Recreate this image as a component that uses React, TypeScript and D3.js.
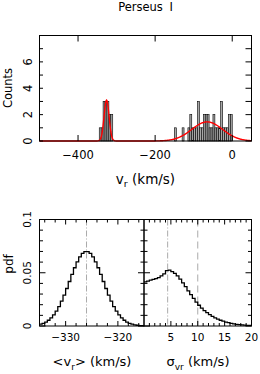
import React from 'react';
import * as d3 from 'd3';

// top panel: radial velocity histogram (counts per 5 km/s bin)
const vrBinWidth = 5;
const vrBinLeft = [
  -345, -340, -335, -330, -325, -320, -315,
  -150, -130, -115, -110, -105, -100, -95, -90, -85, -80, -75, -70, -65,
  -60, -55, -50, -45, -40, -35, -30, -25, -20, -15, -10, -5,
];
const vrCounts = [
  1, 1, 3, 3, 3, 2, 2,
  1, 1, 1, 2, 1, 1, 1, 3, 1, 1, 2, 2, 2,
  1, 1, 2, 1, 1, 1, 3, 1, 1, 1, 2, 2,
];

// fitted gaussian components (amplitude in counts, mean, sigma)
const fitAmp = [3.1, 1.45];
const fitMean = [-326, -65];
const fitSigma = [6.5, 40];

const vrTicks = [-400, -200, 0];
const countTicks = [0, 1, 2, 3, 4, 5, 6, 7];
const countLabels = [0, 2, 4, 6];

// bottom panels: posterior pdfs, 0.5 km/s bins
const meanBinStart = -335;
const meanBinWidth = 0.5;
const meanPdf = [
  0.0017, 0.0025, 0.0037, 0.0054, 0.0076, 0.0104, 0.014, 0.0182, 0.0233, 0.029,
  0.0352, 0.0418, 0.0484, 0.0547, 0.0603, 0.0649, 0.0681, 0.0698, 0.0698, 0.0681,
  0.0649, 0.0603, 0.0547, 0.0484, 0.0418, 0.0352, 0.029, 0.0233, 0.0182, 0.014,
  0.0104, 0.0076, 0.0054, 0.0037, 0.0025, 0.0017, 0.0011, 0.0007, 0.0004, 0.0003,
];
const sigmaBinStart = 0;
const sigmaBinWidth = 0.5;
const sigmaPdf = [
  0.0415, 0.0422, 0.043, 0.0437, 0.0445, 0.0455, 0.047, 0.049, 0.052, 0.0525,
  0.051, 0.0495, 0.047, 0.044, 0.0405, 0.037, 0.033, 0.0295, 0.026, 0.0225,
  0.0195, 0.0168, 0.0145, 0.0125, 0.0106, 0.009, 0.0076, 0.0064, 0.0054, 0.0045,
  0.0037, 0.0031, 0.0025, 0.002, 0.0016, 0.0013, 0.001, 0.0008, 0.0006, 0.0005,
];
const meanBest = -326;
const sigmaBest = 4.4;
const sigmaLimit = 10;

const meanTicks = [-334, -332, -330, -328, -326, -324, -322, -320, -318, -316];
const meanLabels = [-330, -320];
const sigmaTicks = [1, 2, 3, 4, 5, 6, 7, 8, 9, 10, 11, 12, 13, 14, 15, 16, 17, 18, 19];
const sigmaLabels = [5, 10, 15, 20];
const pdfTicks = [0, 0.01, 0.02, 0.03, 0.04, 0.05, 0.06, 0.07, 0.08, 0.09, 0.1];
const pdfLabels = [0, 0.05, 0.1];

const FONT = 'DejaVu Sans';
const fmt = (v: number) => String(v).replace('-', '\u2212');

export default function App() {
  const top = { l: 39.5, r: 251.5, t: 35.5, b: 141 };
  const bot = { l: 39.5, m: 144, r: 251.5, t: 219.5, b: 326 };

  const x = d3.scaleLinear().domain([-500, 50]).range([top.l, top.r]);
  const y = d3.scaleLinear().domain([0, 8]).range([top.b, top.t]);

  const fitLine = d3.line<number>()
    .x(v => x(v))
    .y(v => y(fitAmp.reduce((s, a, i) => s + a * Math.exp(-0.5 * ((v - fitMean[i]) / fitSigma[i]) ** 2), 0)));
  const fitPath = fitLine(d3.range(-500, 50.5, 1)) || '';

  const yP = d3.scaleLinear().domain([0, 0.1]).range([bot.b, bot.t]);
  const xM = d3.scaleLinear().domain([-335, -315]).range([bot.l, bot.m]);
  const xS = d3.scaleLinear().domain([0, 20]).range([bot.m, bot.r]);

  const stepPath = (start: number, w: number, vals: number[], sx: d3.ScaleLinear<number, number>) => {
    const pts: [number, number][] = vals.map((v, i) => [start + i * w, v]);
    pts.push([start + vals.length * w, vals[vals.length - 1]]);
    return d3.line<[number, number]>().x(d => sx(d[0])).y(d => yP(d[1])).curve(d3.curveStepAfter)(pts) || '';
  };

  const tickProps = { stroke: '#000', strokeWidth: 1 };

  return (
    <svg width={260} height={374} style={{ position: 'fixed', left: 0, top: 0, background: '#fff' }}
      fontFamily={FONT}>
      <rect width={260} height={374} fill="#fff" />
      <text x={145.5} y={10.5} fontSize={11.5} textAnchor="middle" wordSpacing={3}>Perseus I</text>

      {/* top histogram */}
      {vrBinLeft.map((b, i) => (
        <rect key={i} x={x(b)} width={x(b + vrBinWidth) - x(b)} y={y(vrCounts[i])}
          height={y(0) - y(vrCounts[i])} fill="#a8a8a8" stroke="#000" strokeWidth={0.6} />
      ))}
      <path d={fitPath} fill="none" stroke="#ff0000" strokeWidth={1.4} />
      <rect x={top.l} y={top.t} width={top.r - top.l} height={top.b - top.t} fill="none" stroke="#000" strokeWidth={1} />
      {vrTicks.map(t => (
        <g key={t}>
          <line x1={x(t)} x2={x(t)} y1={top.b} y2={top.b - 6} {...tickProps} />
          <line x1={x(t)} x2={x(t)} y1={top.t} y2={top.t + 6} {...tickProps} />
          <text x={x(t)} y={158.5} fontSize={11.5} textAnchor="middle">{fmt(t)}</text>
        </g>
      ))}
      {countTicks.map(t => (
        <g key={t}>
          <line x1={top.l} x2={top.l + 3.5} y1={y(t)} y2={y(t)} {...tickProps} />
          <line x1={top.r} x2={top.r - 6} y1={y(t)} y2={y(t)} {...tickProps} />
        </g>
      ))}
      {countLabels.map(t => (
        <text key={t} transform={`translate(31.5,${y(t)}) rotate(-90)`} fontSize={11.5} textAnchor="middle">{t}</text>
      ))}
      <text transform="translate(11.5,88) rotate(-90)" fontSize={11.5} textAnchor="middle">Counts</text>
      <text x={145.5} y={183.5} fontSize={13.5} textAnchor="middle">
        v<tspan fontSize={9.5} dy={3.5}>r</tspan><tspan dy={-3.5}> (km/s)</tspan>
      </text>

      {/* bottom panels */}
      <line x1={xM(meanBest)} x2={xM(meanBest)} y1={bot.t} y2={bot.b} stroke="#aaa" strokeWidth={1} strokeDasharray="6 2 1 2" />
      <line x1={xS(sigmaBest)} x2={xS(sigmaBest)} y1={bot.t} y2={bot.b} stroke="#aaa" strokeWidth={1} strokeDasharray="6 2 1 2" />
      <line x1={xS(sigmaLimit)} x2={xS(sigmaLimit)} y1={bot.t} y2={bot.b} stroke="#aaa" strokeWidth={1} strokeDasharray="7 4" />
      <path d={stepPath(meanBinStart, meanBinWidth, meanPdf, xM)} fill="none" stroke="#000" strokeWidth={1.3} />
      <path d={stepPath(sigmaBinStart, sigmaBinWidth, sigmaPdf, xS)} fill="none" stroke="#000" strokeWidth={1.3} />
      <rect x={bot.l} y={bot.t} width={bot.m - bot.l} height={bot.b - bot.t} fill="none" stroke="#000" strokeWidth={1} />
      <rect x={bot.m} y={bot.t} width={bot.r - bot.m} height={bot.b - bot.t} fill="none" stroke="#000" strokeWidth={1} />

      {meanTicks.map(t => {
        const len = meanLabels.includes(t) ? 5 : 3;
        return (
          <g key={t}>
            <line x1={xM(t)} x2={xM(t)} y1={bot.b} y2={bot.b - len} {...tickProps} />
            <line x1={xM(t)} x2={xM(t)} y1={bot.t} y2={bot.t + len} {...tickProps} />
          </g>
        );
      })}
      {meanLabels.map(t => (
        <text key={t} x={xM(t)} y={340.5} fontSize={10.5} textAnchor="middle">{fmt(t)}</text>
      ))}
      {sigmaTicks.map(t => {
        const len = t % 5 === 0 ? 5 : 3;
        return (
          <g key={t}>
            <line x1={xS(t)} x2={xS(t)} y1={bot.b} y2={bot.b - len} {...tickProps} />
            <line x1={xS(t)} x2={xS(t)} y1={bot.t} y2={bot.t + len} {...tickProps} />
          </g>
        );
      })}
      {sigmaLabels.map(t => (
        <text key={t} x={xS(t)} y={340.5} fontSize={10.5} textAnchor="middle">{t}</text>
      ))}
      {pdfTicks.map((t, i) => {
        const len = i % 5 === 0 ? 6 : 3.5;
        return (
          <g key={t}>
            <line x1={bot.l} x2={bot.l + len} y1={yP(t)} y2={yP(t)} {...tickProps} />
            <line x1={bot.m - len} x2={bot.m + len} y1={yP(t)} y2={yP(t)} {...tickProps} />
            <line x1={bot.r} x2={bot.r - len} y1={yP(t)} y2={yP(t)} {...tickProps} />
          </g>
        );
      })}
      {pdfLabels.map(t => (
        <text key={t} transform={`translate(31,${yP(t)}) rotate(-90)`} fontSize={10.5} textAnchor="middle">{t}</text>
      ))}
      <text transform="translate(12.5,264) rotate(-90)" fontSize={12} textAnchor="middle">pdf</text>
      <text x={92} y={366} fontSize={13} textAnchor="middle">
        {'<v'}<tspan fontSize={9} dy={3.5}>r</tspan><tspan dy={-3.5}>{'> (km/s)'}</tspan>
      </text>
      <text x={198} y={366} fontSize={13} textAnchor="middle">
        σ<tspan fontSize={9} dy={3.5}>vr</tspan><tspan dy={-3.5}> (km/s)</tspan>
      </text>
    </svg>
  );
}
